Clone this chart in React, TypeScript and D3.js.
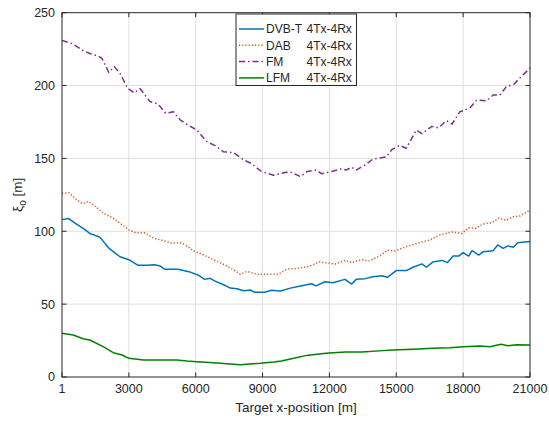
import React, { useEffect, useRef } from 'react';
import * as d3 from 'd3';

// Values (x in m, xi_o in m)
const dvbX = [1, 300, 600, 950, 1250, 1700, 2100, 2600, 3000, 3400, 3850, 4150, 4400, 4600, 5200, 5750, 6100, 6400, 6650, 6850, 7300, 7550, 7850, 8150, 8450, 8650, 9100, 9400, 9800, 10250, 10700, 11200, 11400, 11800, 12150, 12700, 13000, 13200, 13600, 13950, 14350, 14600, 15000, 15450, 15750, 16150, 16350, 16650, 17050, 17300, 17550, 17800, 18000, 18250, 18400, 18700, 18900, 19350, 19550, 19800, 20000, 20250, 20450, 21000];
const dvbY = [108, 108.7, 105.5, 102, 98.5, 96, 88.5, 82.5, 80.5, 76.7, 76.7, 77, 76.2, 74, 74, 72, 70, 67, 67.7, 66, 63, 61, 60.5, 59.2, 59.7, 58.1, 58.1, 59.5, 59, 61, 62.5, 64, 62.5, 65.4, 64.7, 67, 63.8, 67, 67.5, 68.8, 69.5, 68.4, 73, 73, 75.3, 77.6, 75.3, 79, 80, 78.5, 83, 83, 85.3, 83, 86.7, 83.7, 86, 86.7, 90.6, 88.3, 90, 89, 92.2, 93];

const dabX = [1, 300, 600, 900, 1200, 1500, 1850, 2300, 2700, 3000, 3300, 3700, 4150, 4450, 4900, 5350, 5650, 5900, 6250, 6800, 7300, 7700, 8000, 8300, 8750, 9250, 9700, 10100, 10550, 11100, 11550, 12250, 12700, 13000, 13450, 13750, 14250, 14600, 14950, 15450, 16000, 16500, 16950, 17500, 17950, 18250, 18550, 18900, 19300, 19600, 19950, 20250, 20550, 21000];
const dabY = [126, 126.5, 122.5, 119, 120.5, 117, 112.5, 109, 104.5, 101, 99, 99, 95, 94, 92, 92, 89.5, 86.5, 84.5, 80.5, 77, 73.5, 70.5, 72.5, 70.5, 70.5, 70.5, 74, 74.5, 76, 79, 77.5, 80, 78.5, 80.5, 79.5, 83, 87, 86.5, 89.5, 92, 94, 97.5, 99.5, 98.5, 102.5, 102, 105, 106, 109, 107.5, 110, 110.5, 114.5];

const fmX = [1, 500, 950, 1250, 1650, 1800, 2100, 2350, 2600, 2950, 3250, 3500, 3950, 4300, 4650, 5000, 5300, 5650, 6050, 6500, 6850, 7250, 7700, 8150, 8500, 8950, 9500, 10200, 10700, 11000, 11400, 11650, 12100, 12550, 12750, 13000, 13200, 13600, 13950, 14550, 14800, 15150, 15450, 15900, 16150, 16600, 16900, 17250, 17500, 17850, 18300, 18600, 19050, 19350, 19650, 19950, 20250, 20600, 21000];
const fmY = [231, 228.5, 224, 222, 220, 218.5, 209, 213, 208.5, 198, 195, 198, 189, 187.5, 181, 182, 176.5, 173, 169.5, 161.5, 159, 154.5, 154, 149, 146.5, 141, 138.5, 141, 137.5, 141, 142, 139.5, 141, 143, 142, 144, 142, 145.5, 149.5, 151, 156, 159, 157, 169.5, 167, 172, 171, 176, 173.5, 182, 184.5, 190, 189.5, 193.5, 193.5, 199.5, 200.5, 206, 212];

const lfmX = [1, 500, 950, 1250, 1850, 2300, 2700, 3000, 3650, 4250, 5150, 5600, 6050, 6800, 7400, 8000, 8900, 9500, 9850, 10400, 11050, 11850, 12700, 13450, 14400, 14850, 15750, 16650, 17400, 18000, 18750, 19200, 19700, 20000, 20400, 21000];
const lfmY = [30, 28.8, 26.3, 25.4, 20.8, 16.7, 15.1, 12.8, 11.7, 11.7, 11.7, 11, 10.5, 9.8, 9.1, 8.4, 9.4, 10.3, 11, 12.8, 15, 16.3, 17.2, 17.2, 18.1, 18.5, 19, 19.7, 20.1, 20.8, 21.3, 20.8, 22.4, 21.5, 22.2, 21.9];

const xTicks = [1, 3000, 6000, 9000, 12000, 15000, 18000, 21000];
const yTicks = [0, 50, 100, 150, 200, 250];

const seriesNames = ['DVB-T', 'DAB', 'FM', 'LFM'];
const seriesSuffix = '4Tx-4Rx';
const seriesColors = ['#0072BD', '#D95319', '#7E2F8E', '#008000'];
const seriesDash = [null, '1.2,2', '6,3,1.5,3', null];

const App = () => {
  const svgRef = useRef(null);

  const W = 549;
  const H = 422;
  const left = 62;
  const right = 530;
  const top = 12.7;
  const bottom = 377;
  const ink = '#262626';
  const font = '"Liberation Sans", Arial, Helvetica, sans-serif';

  useEffect(() => {
    const svg = d3.select(svgRef.current);
    svg.selectAll('*').remove();

    const x = d3.scaleLinear().domain([1, 21000]).range([left, right]);
    const y = d3.scaleLinear().domain([0, 250]).range([bottom, top]);

    // background
    svg.append('rect').attr('width', W).attr('height', H).attr('fill', '#fff');

    // grid
    const grid = svg.append('g').attr('stroke', '#dfdfdf').attr('stroke-width', 1);
    xTicks.slice(1, -1).forEach(t => {
      grid.append('line')
        .attr('x1', x(t)).attr('x2', x(t))
        .attr('y1', top).attr('y2', bottom);
    });
    yTicks.slice(1, -1).forEach(t => {
      grid.append('line')
        .attr('x1', left).attr('x2', right)
        .attr('y1', y(t)).attr('y2', y(t));
    });

    // lines
    const all = [[dvbX, dvbY], [dabX, dabY], [fmX, fmY], [lfmX, lfmY]];
    const line = d3.line<number[]>()
      .x(d => x(d[0]))
      .y(d => y(d[1]));

    all.forEach(([xs, ys], i) => {
      const pts = xs.map((v, j) => [v, ys[j]]);
      svg.append('path')
        .datum(pts)
        .attr('d', line)
        .attr('fill', 'none')
        .attr('stroke', seriesColors[i])
        .attr('stroke-width', 1.5)
        .attr('stroke-linejoin', 'round')
        .attr('stroke-dasharray', seriesDash[i]);
    });

    // axes box + ticks (inward, all sides)
    const ax = svg.append('g').attr('stroke', ink).attr('stroke-width', 1);
    ax.append('rect')
      .attr('x', left).attr('y', top)
      .attr('width', right - left).attr('height', bottom - top)
      .attr('fill', 'none');
    const tl = 4.5;
    xTicks.forEach(t => {
      ax.append('line').attr('x1', x(t)).attr('x2', x(t)).attr('y1', bottom).attr('y2', bottom - tl);
      ax.append('line').attr('x1', x(t)).attr('x2', x(t)).attr('y1', top).attr('y2', top + tl);
    });
    yTicks.forEach(t => {
      ax.append('line').attr('x1', left).attr('x2', left + tl).attr('y1', y(t)).attr('y2', y(t));
      ax.append('line').attr('x1', right).attr('x2', right - tl).attr('y1', y(t)).attr('y2', y(t));
    });

    // tick labels
    const labels = svg.append('g')
      .attr('fill', ink)
      .style('font-family', font)
      .style('font-size', '12.5px');
    xTicks.forEach(t => {
      labels.append('text')
        .attr('x', x(t)).attr('y', bottom + 16)
        .attr('text-anchor', 'middle')
        .text(String(t));
    });
    yTicks.forEach(t => {
      labels.append('text')
        .attr('x', left - 7).attr('y', y(t) + 4.4)
        .attr('text-anchor', 'end')
        .text(String(t));
    });

    // axis titles
    labels.append('text')
      .attr('x', (left + right) / 2).attr('y', bottom + 35)
      .attr('text-anchor', 'middle')
      .style('font-size', '13.5px')
      .text('Target x-position [m]');

    const yl = labels.append('text')
      .attr('transform', `translate(22,${(top + bottom) / 2}) rotate(-90)`)
      .attr('text-anchor', 'middle')
      .style('font-size', '13.5px');
    yl.append('tspan').text('ξ');
    yl.append('tspan').attr('dy', 4).style('font-size', '10px').text('o');
    yl.append('tspan').attr('dy', -4).text(' [m]');

    // legend
    const lg = svg.append('g').attr('transform', 'translate(236,14)');
    lg.append('rect')
      .attr('x', 0).attr('y', 0)
      .attr('width', 120.5).attr('height', 71.5)
      .attr('fill', '#fff')
      .attr('stroke', ink)
      .attr('stroke-width', 1);
    seriesNames.forEach((name, i) => {
      const cy = 15 + i * 16.3;
      lg.append('line')
        .attr('x1', 3).attr('x2', 28)
        .attr('y1', cy).attr('y2', cy)
        .attr('stroke', seriesColors[i])
        .attr('stroke-width', 1.5)
        .attr('stroke-dasharray', seriesDash[i]);
      lg.append('text')
        .attr('x', 30).attr('y', cy + 4.3)
        .attr('fill', ink)
        .style('font-family', font)
        .style('font-size', '12px')
        .text(name);
      lg.append('text')
        .attr('x', 70.5).attr('y', cy + 4.3)
        .attr('fill', ink)
        .style('font-family', font)
        .style('font-size', '12px')
        .text(seriesSuffix);
    });
  }, []);

  return (
    <svg
      ref={svgRef}
      width={W}
      height={H}
      style={{ position: 'absolute', left: 0, top: 0 }}
    ></svg>
  );
};

export default App;
